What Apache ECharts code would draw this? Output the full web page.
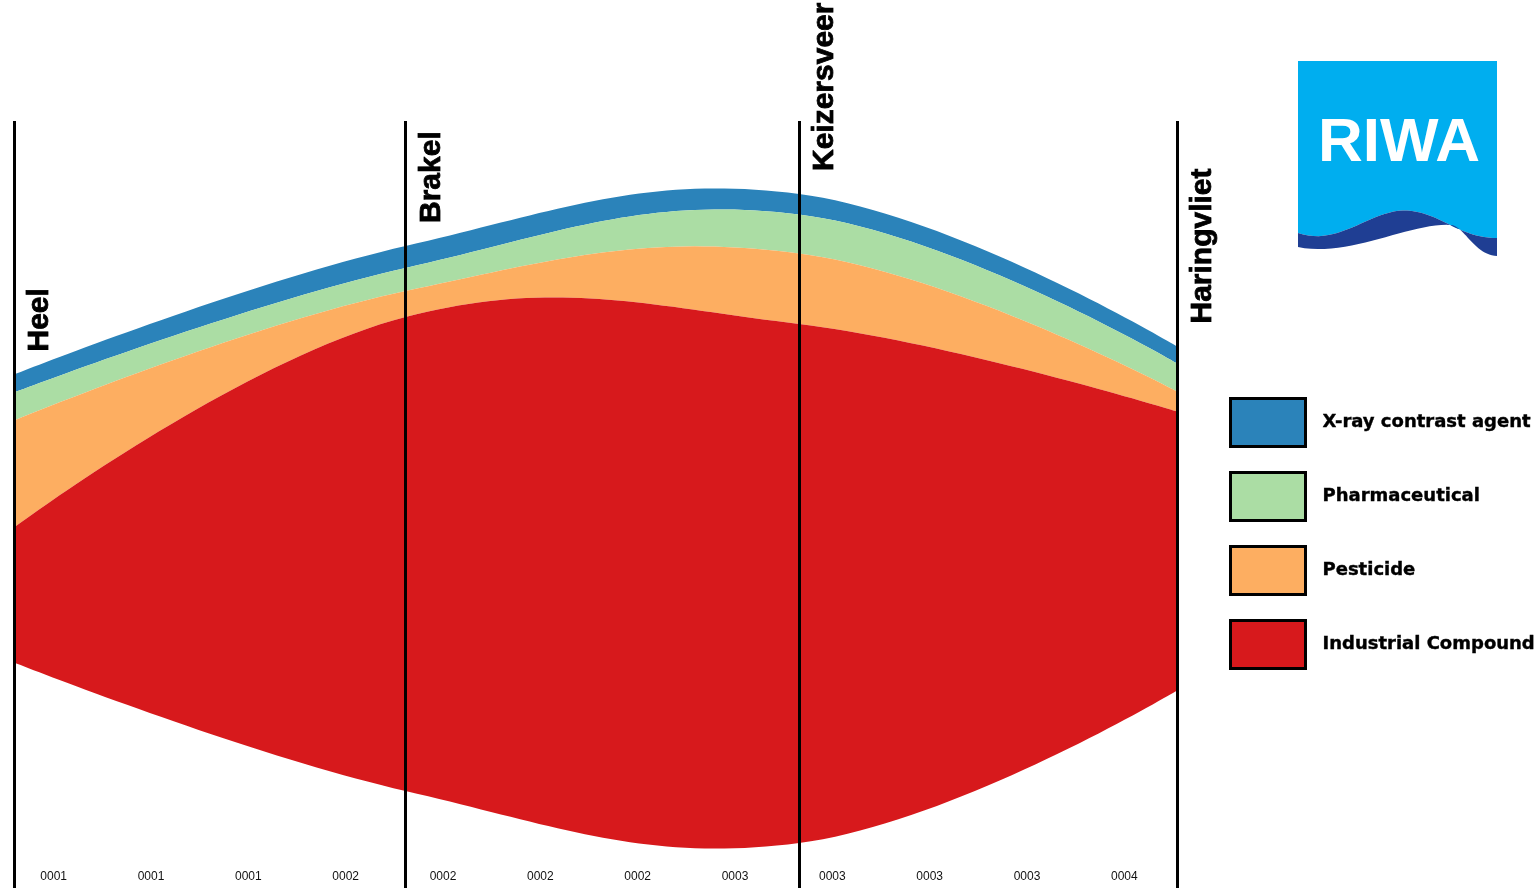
<!DOCTYPE html>
<html><head><meta charset="utf-8">
<script src="https://cdn.jsdelivr.net/npm/echarts@6/dist/echarts.min.js"></script>
<style>html,body{margin:0;padding:0;background:#fff}#c{width:1538px;height:893px}</style>
</head><body><div id="c"></div>
<script>
// ---- data ----
const stations = ['Heel', 'Brakel', 'Keizersveer', 'Haringvliet'];
const stationPos = [0, 4.04, 8.1, 12];
const groups = ['X-ray contrast agent', 'Pharmaceutical', 'Pesticide', 'Industrial Compound'];
const xray = [18, 22, 20.5, 17];
const pharma = [28, 23, 39, 28];
const pesticide = [107, 26, 70.5, 20];
const industrial = [135, 474, 519, 279];
const tickLabels = ['0001', '0001', '0001', '0002', '0002', '0002', '0002', '0003', '0003', '0003', '0003', '0004'];
const colors = ['#2b83ba', '#abdda4', '#fdae61', '#d7191c'];

// ---- derived: centred (silhouette) stream layout, like a theme river ----
const layers = [xray, pharma, pesticide, industrial];          // top -> bottom
const totals = stationPos.map((_, i) => layers.reduce((s, l) => s + l[i], 0));
const maxTotal = Math.max(...totals);
const baseVals = totals.map(t => (maxTotal - t) / 2);
const lowerVals = layers.map((_, j) => stationPos.map((_, i) => {
  let v = baseVals[i];
  for (let k = layers.length - 1; k > j; k--) v += layers[k][i];
  return v;
}));
const upperVals = layers.map((l, j) => stationPos.map((_, i) => lowerVals[j][i] + l[i]));
const topVals = totals.map((t, i) => baseVals[i] + t);

// cubic bezier sampling
function cubicPts(p0, c1, c2, p3, n) {
  const out = [];
  for (let k = 1; k <= n; k++) {
    const t = k / n, u = 1 - t;
    out.push([
      u * u * u * p0[0] + 3 * u * u * t * c1[0] + 3 * u * t * t * c2[0] + t * t * t * p3[0],
      u * u * u * p0[1] + 3 * u * u * t * c1[1] + 3 * u * t * t * c2[1] + t * t * t * p3[1]
    ]);
  }
  return out;
}
// unconstrained bezier smoothing (smooth = 0.4) through pixel points
function smoothLine(pts) {
  const s = 0.4, n = pts.length, cps = [];
  for (let i = 0; i < n; i++) {
    if (i === 0 || i === n - 1) { cps.push([pts[i], pts[i]]); continue; }
    const p = pts[i], a = pts[i - 1], b = pts[i + 1];
    const vx = (b[0] - a[0]) * s, vy = (b[1] - a[1]) * s;
    let d0 = Math.hypot(p[0] - a[0], p[1] - a[1]), d1 = Math.hypot(b[0] - p[0], b[1] - p[1]);
    const sum = d0 + d1; if (sum) { d0 /= sum; d1 /= sum; }
    cps.push([[p[0] - vx * d0, p[1] - vy * d0], [p[0] + vx * d1, p[1] + vy * d1]]);
  }
  let out = [pts[0]];
  for (let i = 1; i < n; i++) out = out.concat(cubicPts(pts[i - 1], cps[i - 1][1], cps[i][0], pts[i], 40));
  return out;
}

// logo outline
function sampleCubics(start, segs) {
  const pts = [start.slice()];
  let p0 = start;
  segs.forEach(s => {
    if (s.length === 1) { pts.push(s[0].slice()); p0 = s[0]; return; }
    cubicPts(p0, s[0], s[1], s[2], 24).forEach(q => pts.push(q));
    p0 = s[2];
  });
  return pts;
}
const logoLight = sampleCubics([1298, 61], [
  [[1497, 61]], [[1497, 238]],
  [[1460, 238], [1445, 216], [1412, 211]],
  [[1375, 205], [1340, 248], [1298, 233]]
]);
const logoDark = sampleCubics([1298, 233], [
  [[1340, 248], [1375, 205], [1412, 211]],
  [[1445, 216], [1460, 238], [1497, 238]],
  [[1497, 256]],
  [[1475, 255], [1465, 228], [1452, 225]],
  [[1410, 222], [1350, 258], [1298, 247]]
]);

const chart = echarts.init(document.getElementById('c'), null, { renderer: 'canvas' });
const L = 14, W = 1163;
const sans = '"Liberation Sans", Arial, Helvetica, sans-serif';

const riverSeries = groups.map((name, j) => ({
  type: 'custom', name, xAxisIndex: 1, yAxisIndex: 1, coordinateSystem: 'cartesian2d',
  data: [[stationPos[0], upperVals[j][0]]], silent: true, clip: false, z: 2,
  itemStyle: { color: colors[j] },
  renderItem: (params, api) => {
    const up = stationPos.map((p, i) => api.coord([p, upperVals[j][i]]));
    const lo = stationPos.map((p, i) => api.coord([p, lowerVals[j][i]])).reverse();
    const pts = smoothLine(up).concat(smoothLine(lo));
    return { type: 'polygon', shape: { points: pts }, style: { fill: colors[j], stroke: null } };
  }
}));

const option = {
  animation: false,
  color: colors,
  grid: [
    { left: L, width: W, top: 121, height: 767 },
    { left: L, width: W, top: 194, height: 649 },
    { left: 5, width: 1168, top: 121, height: 747 }
  ],
  xAxis: [
    { gridIndex: 0, type: 'value', min: 0, max: 12, show: false },
    { gridIndex: 1, type: 'value', min: 0, max: 12, show: false },
    {
      gridIndex: 2, type: 'category', data: tickLabels, boundaryGap: true,
      axisLine: { show: false }, axisTick: { show: false }, splitLine: { show: false },
      axisLabel: { interval: 0, fontSize: 12, color: '#111', margin: 3, fontFamily: sans }
    }
  ],
  yAxis: [
    { gridIndex: 0, type: 'value', min: 0, max: 1, show: false },
    { gridIndex: 1, type: 'value', min: 0, max: maxTotal, show: false },
    { gridIndex: 2, type: 'value', min: 0, max: 1, show: false }
  ],
  legend: {
    data: groups.map(n => ({ name: n, icon: 'rect' })),
    orient: 'vertical', left: 1229, top: 397, padding: 0,
    itemWidth: 75, itemHeight: 48, itemGap: 23, selectedMode: false,
    itemStyle: { borderColor: '#000', borderWidth: 3 },
    textStyle: {
      fontFamily: '"DejaVu Sans", Verdana, sans-serif', fontWeight: 'bold', fontSize: 18, color: '#000',
      padding: [6, 0, 0, 12], textBorderColor: '#000', textBorderWidth: 0.4
    }
  },
  graphic: [
    { type: 'polygon', z: 100, shape: { points: logoLight }, style: { fill: '#00aeef' } },
    { type: 'polygon', z: 100, shape: { points: logoDark }, style: { fill: '#1f3e93' } },
    { type: 'text', z: 101, style: { text: 'RIWA', x: 1399, y: 144, align: 'center', verticalAlign: 'middle', fill: '#fff', font: 'bold 62px "Liberation Sans", Arial, sans-serif' } }
  ],
  series: riverSeries.concat([
    {
      type: 'scatter', xAxisIndex: 0, yAxisIndex: 0, data: stationPos.map(p => [p, 0]),
      symbolSize: 0, silent: true, z: 10,
      markLine: {
        silent: true, symbol: ['none', 'none'], label: { show: false },
        lineStyle: { color: '#000', width: 3, type: 'solid', opacity: 1 },
        data: stationPos.map(p => ({ xAxis: p }))
      }
    },
    {
      type: 'scatter', xAxisIndex: 1, yAxisIndex: 1,
      data: stationPos.map((p, i) => ({ value: [p, topVals[i]], name: stations[i] })),
      symbolSize: 0, silent: true, z: 11,
      itemStyle: { opacity: 1 },
      label: {
        show: true, formatter: '{b}', position: [11, -23], rotate: 90, align: 'left', verticalAlign: 'top',
        fontSize: 30, fontWeight: 'bold', color: '#000', opacity: 1, fontFamily: sans,
        textBorderColor: '#000', textBorderWidth: 0.8
      }
    }
  ])
};
try { chart.setOption(option); }
catch (e) { document.body.insertAdjacentHTML('beforeend', '<pre>' + e.message + '\n' + e.stack + '</pre>'); }
</script></body></html>
